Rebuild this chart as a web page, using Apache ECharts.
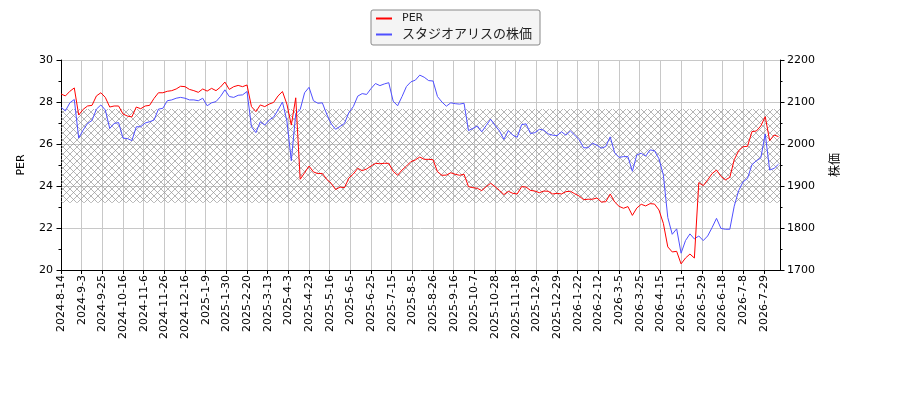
<!DOCTYPE html>
<html>
<head>
<meta charset="utf-8">
<script src="https://cdn.jsdelivr.net/npm/echarts@6/dist/echarts.min.js"></script>
<style>
  html, body { margin: 0; padding: 0; background: #fff; }
  #chart { width: 900px; height: 400px; }
</style>
</head>
<body>
<div id="chart"></div>
<script>
// 取引日（土日と休場日を除く）
var firstDay = [2024, 8, 14];
var lastDay = [2026, 8, 14];
var noTrade = [
  '2024-9-16', '2024-9-23', '2024-10-14', '2024-11-4', '2024-12-31',
  '2025-1-1', '2025-1-2', '2025-1-3', '2025-1-13', '2025-2-11', '2025-2-24',
  '2025-3-20', '2025-4-29', '2025-5-5', '2025-5-6', '2025-7-21', '2025-8-11',
  '2025-9-15', '2025-9-23', '2025-10-13', '2025-11-3', '2025-11-24', '2025-12-31',
  '2026-1-1', '2026-1-2', '2026-1-12', '2026-2-11', '2026-2-23', '2026-3-31',
  '2026-4-29', '2026-5-4', '2026-5-5', '2026-5-6', '2026-7-20', '2026-8-11'
];

// 3取引日ごとに読み取った値
var sampleStep = 3;
var perValues = [
  28.38, 28.29, 28.51, 28.67, 27.38, 27.65, 27.81, 27.84, 28.29, 28.44, 28.22, 27.76, 27.81, 27.81,
  27.43, 27.33, 27.29, 27.76, 27.68, 27.81, 27.84, 28.17, 28.44, 28.44, 28.51, 28.54, 28.62, 28.75,
  28.73, 28.60, 28.54, 28.46, 28.62, 28.52, 28.65, 28.54, 28.71, 28.95, 28.60, 28.73, 28.79, 28.73,
  28.81, 27.78, 27.54, 27.86, 27.78, 27.90, 27.98, 28.29, 28.50, 27.90, 26.90, 28.20, 24.32,
  24.63, 24.95, 24.67, 24.59, 24.60, 24.32, 24.13, 23.83, 23.95, 23.92, 24.38, 24.57, 24.84, 24.73,
  24.81, 24.95, 25.08, 25.06, 25.08, 25.08, 24.70, 24.51, 24.76, 24.95, 25.16, 25.24, 25.38, 25.27,
  25.27, 25.25, 24.68, 24.51, 24.52, 24.63, 24.56, 24.51, 24.56, 23.97, 23.92, 23.89, 23.78, 23.97,
  24.13, 23.97, 23.79, 23.59, 23.75, 23.65, 23.62, 23.97, 23.95, 23.79, 23.76, 23.68, 23.76, 23.75,
  23.62, 23.65, 23.62, 23.73, 23.75, 23.63, 23.52, 23.35, 23.37, 23.37, 23.43, 23.24, 23.25, 23.62,
  23.24, 23.03, 22.94, 23.02, 22.60, 22.95, 23.13, 23.05, 23.16, 23.14, 22.86, 22.22, 21.10,
  20.86, 20.89, 20.29, 20.57, 20.76, 20.57, 24.16, 24.02, 24.29, 24.59, 24.76, 24.46, 24.29,
  24.41, 25.25, 25.68, 25.87, 25.89, 26.59, 26.62, 26.86, 27.30, 26.16, 26.43, 26.35
];
var priceValues = [
  2087, 2079, 2098, 2106, 2014, 2033, 2049, 2056, 2083, 2093, 2081, 2037, 2049, 2051,
  2014, 2013, 2008, 2041, 2041, 2050, 2053, 2057, 2083, 2085, 2103, 2105, 2109, 2111,
  2109, 2105, 2105, 2103, 2109, 2091, 2098, 2101, 2113, 2129, 2113, 2111, 2116, 2117,
  2125, 2041, 2027, 2053, 2045, 2057, 2064, 2081, 2100, 2055, 1960, 2072, 2082,
  2122, 2135, 2103, 2097, 2098, 2071, 2048, 2035, 2042, 2049, 2075, 2089, 2114, 2120,
  2118, 2132, 2144, 2139, 2143, 2146, 2102, 2091, 2113, 2137, 2148, 2152, 2164, 2159,
  2151, 2150, 2113, 2100, 2090, 2098, 2096, 2095, 2097, 2032, 2037, 2043, 2029, 2044,
  2059, 2044, 2031, 2011, 2032, 2021, 2016, 2046, 2048, 2025, 2027, 2035, 2033, 2024,
  2021, 2020, 2029, 2021, 2031, 2021, 2010, 1991, 1991, 2002, 1997, 1990, 1994, 2017,
  1979, 1968, 1970, 1970, 1935, 1974, 1978, 1971, 1986, 1984, 1965, 1926, 1825,
  1785, 1798, 1740, 1770, 1786, 1774, 1781, 1770, 1781, 1801, 1823, 1799, 1797,
  1797, 1852, 1889, 1910, 1918, 1951, 1960, 1967, 2024, 1938, 1942, 1952
];
var perBand = [23.2, 27.67];
var perTicks = [20, 30, 2];
var priceTicks = [1700, 2200, 100];
var seriesNames = ['PER', 'スタジオアリスの株価'];

var tradeDays = [];
var day = new Date(Date.UTC(firstDay[0], firstDay[1] - 1, firstDay[2]));
var endTime = Date.UTC(lastDay[0], lastDay[1] - 1, lastDay[2]);
while (day.getTime() <= endTime) {
  var key = day.getUTCFullYear() + '-' + (day.getUTCMonth() + 1) + '-' + day.getUTCDate();
  var wd = day.getUTCDay();
  if (wd !== 0 && wd !== 6 && noTrade.indexOf(key) < 0) {
    tradeDays.push(key);
  }
  day.setUTCDate(day.getUTCDate() + 1);
}

var perData = perValues.map(function (v, k) { return [tradeDays[k * sampleStep], v]; });
var priceData = priceValues.map(function (v, k) { return [tradeDays[k * sampleStep], v]; });

// 斜め格子のハッチ
function hatchPattern() {
  var c = document.createElement('canvas');
  c.width = 7;
  c.height = 7;
  var g = c.getContext('2d');
  g.strokeStyle = 'rgba(150,150,150,0.7)';
  g.lineWidth = 1;
  g.beginPath();
  g.moveTo(0, 0); g.lineTo(7, 7);
  g.moveTo(7, 0); g.lineTo(0, 7);
  g.stroke();
  return c;
}

var font = "'DejaVu Sans', 'Noto Sans CJK JP', sans-serif";
var chart = echarts.init(document.getElementById('chart'));

var option = {
  animation: false,
  textStyle: { fontFamily: font },
  grid: { left: 61, right: 120, top: 60, bottom: 130 },
  legend: {
    orient: 'vertical',
    left: 371,
    top: 10,
    padding: [3, 8, 4, 5],
    itemGap: 4,
    itemWidth: 16,
    itemHeight: 2,
    icon: 'rect',
    backgroundColor: '#f4f4f4',
    borderColor: '#888',
    borderWidth: 1,
    borderRadius: 2,
    data: seriesNames,
    formatter: function (name) {
      return name === 'PER' ? '{a|' + name + '}' : '{b|' + name + '}';
    },
    textStyle: {
      color: '#222',
      fontFamily: font,
      rich: {
        a: { fontSize: 11, lineHeight: 16, padding: [0, 0, 0, 5], fontFamily: font },
        b: { fontSize: 13, lineHeight: 16, padding: [0, 0, 0, 5], fontFamily: font }
      }
    }
  },
  xAxis: {
    type: 'category',
    data: tradeDays,
    boundaryGap: false,
    axisLine: { lineStyle: { color: '#000', width: 1 } },
    axisTick: { interval: 13, length: 4, lineStyle: { color: '#000' } },
    axisLabel: { interval: 13, rotate: 90, fontSize: 11, color: '#000', margin: 5, fontFamily: font },
    splitLine: { show: true, interval: 13, lineStyle: { color: '#c8c8c8', width: 1 } }
  },
  yAxis: [
    {
      type: 'value',
      name: 'PER',
      nameLocation: 'middle',
      nameGap: 34,
      nameTextStyle: { fontSize: 11, color: '#000', fontFamily: font },
      min: perTicks[0],
      max: perTicks[1],
      interval: perTicks[2],
      axisLine: { show: true, lineStyle: { color: '#000' } },
      axisTick: { show: true, length: 4.5, lineStyle: { color: '#000' } },
      minorTick: { show: true, splitNumber: 2, length: 2.5, lineStyle: { color: '#000' } },
      axisLabel: { fontSize: 11, color: '#000', margin: 8, fontFamily: font },
      splitLine: { show: true, lineStyle: { color: '#c8c8c8', width: 1 } }
    },
    {
      type: 'value',
      name: '株価',
      nameLocation: 'middle',
      nameGap: 50,
      nameTextStyle: { fontSize: 12, color: '#000', fontFamily: font },
      position: 'right',
      min: priceTicks[0],
      max: priceTicks[1],
      interval: priceTicks[2],
      axisLine: { show: true, lineStyle: { color: '#000' } },
      axisTick: { show: true, length: 4.5, lineStyle: { color: '#000' } },
      minorTick: { show: true, splitNumber: 2, length: 2.5, lineStyle: { color: '#000' } },
      axisLabel: {
        fontSize: 11, color: '#000', margin: 7, fontFamily: font,
        formatter: function (v) { return String(v); }
      },
      splitLine: { show: false }
    }
  ],
  series: [
    {
      name: seriesNames[0],
      type: 'line',
      yAxisIndex: 0,
      data: perData,
      symbol: 'none',
      color: '#ff0000',
      lineStyle: { color: '#ff0000', width: 1 },
      z: 4,
      markArea: {
        silent: true,
        itemStyle: { color: { image: hatchPattern(), repeat: 'repeat' } },
        data: [[{ yAxis: perBand[0] }, { yAxis: perBand[1] }]]
      }
    },
    {
      name: seriesNames[1],
      type: 'line',
      yAxisIndex: 1,
      data: priceData,
      symbol: 'none',
      color: '#4f4fff',
      lineStyle: { color: '#4f4fff', width: 1 },
      z: 3
    }
  ]
};

chart.setOption(option);
</script>
</body>
</html>
